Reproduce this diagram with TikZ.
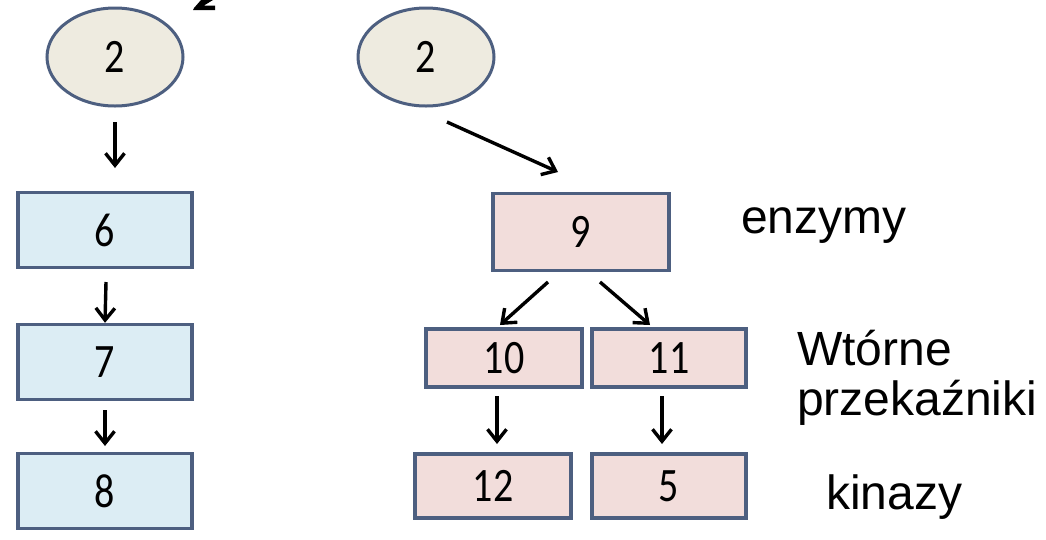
\documentclass[tikz,border=0pt]{standalone}
\usepackage{fontspec}
\usepackage{graphicx}
\setmainfont{Carlito}
\newfontfamily\labelfont{Liberation Sans}
\usetikzlibrary{shapes.geometric,arrows.meta}
\definecolor{edgeblue}{HTML}{4D5F80}
\definecolor{beigefill}{HTML}{EEEBE0}
\definecolor{bluefill}{HTML}{DCEDF4}
\definecolor{pinkfill}{HTML}{F2DDDB}
\newcommand\tallnum[1]{\scalebox{1}[1.2]{#1}}
\tikzset{
  numfont/.style={font=\fontsize{40}{40}\selectfont},
  oval/.style={ellipse, draw=edgeblue, fill=beigefill, line width=3pt, minimum width=136pt, minimum height=98pt, inner sep=0pt, numfont},
  bluebox/.style={rectangle, draw=edgeblue, fill=bluefill, line width=3.4pt, minimum width=174pt, minimum height=75pt, inner sep=0pt, numfont},
  pinkbox/.style={rectangle, draw=edgeblue, fill=pinkfill, line width=3.4pt, minimum width=154pt, minimum height=58pt, inner sep=0pt, numfont},
  conn/.style={line width=3.4pt, -{Straight Barb[length=12pt,width=19pt,line width=3.4pt]}},
  sidelabel/.style={font=\labelfont\fontsize{48}{52}\selectfont, anchor=west, align=left, inner sep=0pt},
}
\begin{document}
\begin{tikzpicture}[x=1pt,y=-1pt]
\useasboundingbox (0,0) rectangle (1046,539);
\fill[white] (0,0) rectangle (1046,539);
% fragment cut at the top edge
\fill[black] (201,0) -- (213,0) -- (204,5.5) -- (215,5.5) -- (215,10) -- (193,10) -- (194,8) -- cycle;
% left column
\node[oval] (e1) at (115,57) {\tallnum{2}};
\node[bluebox] (b6) at (105,230) {\tallnum{6}};
\node[bluebox] (b7) at (105,362) {\tallnum{7}};
\node[bluebox] (b8) at (105,491) {\tallnum{8}};
\coordinate (a1s) at (115,122);
\coordinate (a1e) at (115,168);
\draw[conn] (a1s) -- (a1e);
\coordinate (a2s) at (106,282);
\draw[conn] (a2s) -- (b7.north);
\coordinate (a3s) at (105,410);
\coordinate (a3e) at (105,446);
\draw[conn] (a3s) -- (a3e);
% right column
\node[oval] (e2) at (426,57) {\tallnum{2}};
\node[rectangle, draw=edgeblue, fill=pinkfill, line width=3.4pt, minimum width=176pt, minimum height=77pt, inner sep=0pt, numfont] (b9) at (581,232) {\tallnum{9}};
\node[pinkbox, minimum width=156pt] (b10) at (504,358) {\tallnum{10}};
\node[pinkbox, minimum width=154pt] (b11) at (669,358) {\tallnum{11}};
\node[pinkbox, minimum height=64pt, minimum width=156pt] (b12) at (493,486) {\tallnum{12}};
\node[pinkbox, minimum height=64pt] (b5) at (669,486) {\tallnum{5}};
\coordinate (a4s) at (447,122);
\coordinate (a4e) at (558,172);
\draw[conn] (a4s) -- (a4e);
\coordinate (a5s) at (548,282);
\coordinate (a5e) at (500,325);
\coordinate (a6s) at (600,282);
\coordinate (a6e) at (650,325);
\draw[conn] (a5s) -- (a5e);
\draw[conn] (a6s) -- (a6e);
\coordinate (a7s) at (497,396);
\coordinate (a7e) at (497,444);
\coordinate (a8s) at (662,396);
\coordinate (a8e) at (662,444);
\draw[conn] (a7s) -- (a7e);
\draw[conn] (a8s) -- (a8e);
% side labels
\node[sidelabel] (l1) at (741,226) {enzymy};
\node[sidelabel] (l2) at (797,378) {Wtórne\\[-2pt]przekaźniki};
\node[sidelabel] (l3) at (826,497) {kinazy};
\end{tikzpicture}
\end{document}
